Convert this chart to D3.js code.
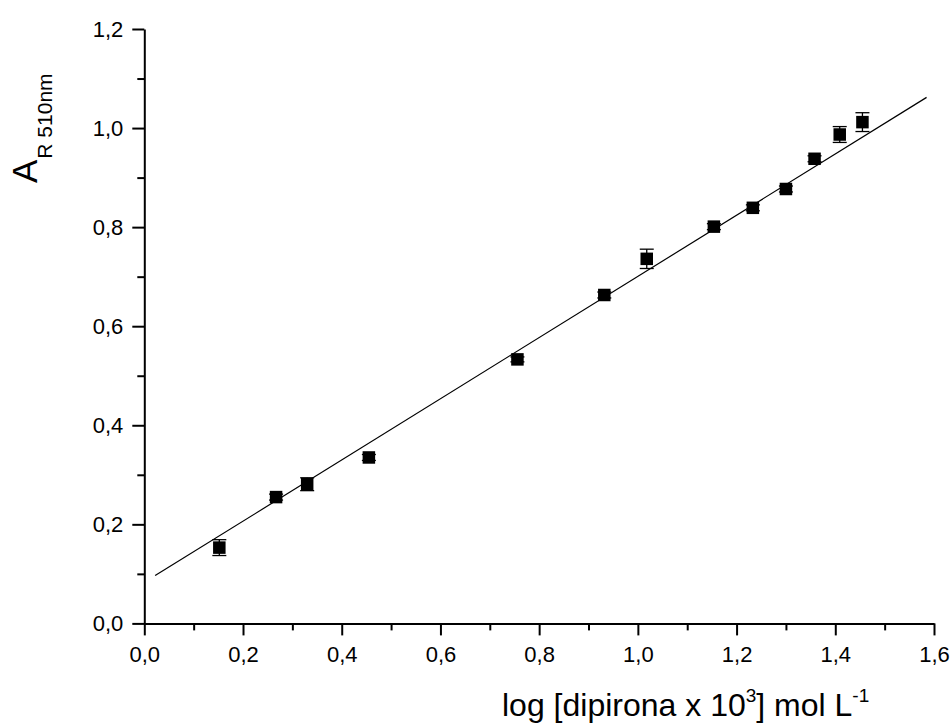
<!DOCTYPE html>
<html>
<head>
<meta charset="utf-8">
<script src="https://cdn.jsdelivr.net/npm/d3@7"></script>
<style>
  body { margin: 0; background: #fff; }
  svg { display: block; font-family: "Liberation Sans", Arial, sans-serif; }
  .axis path, .axis line { stroke: #000; stroke-width: 2; }
  .axis text { font-size: 22px; fill: #000; font-family: "Liberation Sans", Arial, sans-serif; }
</style>
</head>
<body>
<svg id="chart" width="952" height="724"></svg>
<script>
// tick values on each axis
const xMajor = [0, 0.2, 0.4, 0.6, 0.8, 1.0, 1.2, 1.4, 1.6];
const xMinor = [0.1, 0.3, 0.5, 0.7, 0.9, 1.1, 1.3, 1.5];
const yMajor = [0, 0.2, 0.4, 0.6, 0.8, 1.0, 1.2];
const yMinor = [0.1, 0.3, 0.5, 0.7, 0.9, 1.1];

const logConc = [0.152, 0.267, 0.330, 0.455, 0.756, 0.932, 1.018, 1.154, 1.233, 1.300, 1.358, 1.409, 1.455];
const absorb  = [0.153, 0.255, 0.281, 0.335, 0.533, 0.663, 0.736, 0.801, 0.839, 0.877, 0.938, 0.987, 1.012];
const errAbs  = [0.016, 0.006, 0.013, 0.006, 0.005, 0.006, 0.0195, 0.006, 0.006, 0.006, 0.006, 0.016, 0.019];

// linear fit
const fitSlope = 0.6177;
const fitIntercept = 0.0829;
const fitRange = [0.022, 1.585];

var fmt = function(v){ return d3.format(".1f")(v).replace(".", ","); };

var svg = d3.select("#chart");
var x = d3.scaleLinear().domain([0, 1.6]).range([144.3, 934]);
var y = d3.scaleLinear().domain([0, 1.2]).range([623.4, 29]);

// minor ticks first, majors on top
svg.append("g").attr("class", "axis")
    .attr("transform", "translate(0," + y(0) + ")")
    .call(d3.axisBottom(x).tickValues(xMinor).tickSize(7).tickSizeOuter(0).tickFormat(""))
    .select(".domain").remove();
svg.append("g").attr("class", "axis")
    .attr("transform", "translate(" + x(0) + ",0)")
    .call(d3.axisLeft(y).tickValues(yMinor).tickSize(7).tickSizeOuter(0).tickFormat(""))
    .select(".domain").remove();

svg.append("g").attr("class", "axis")
    .attr("transform", "translate(0," + y(0) + ")")
    .call(d3.axisBottom(x).tickValues(xMajor).tickSize(12).tickSizeOuter(0).tickPadding(11).tickFormat(fmt));
svg.append("g").attr("class", "axis")
    .attr("transform", "translate(" + x(0) + ",0)")
    .call(d3.axisLeft(y).tickValues(yMajor).tickSize(12).tickSizeOuter(0).tickPadding(9).tickFormat(fmt));

// fit line
svg.append("line")
    .attr("x1", x(fitRange[0])).attr("y1", y(fitIntercept + fitSlope * fitRange[0]))
    .attr("x2", x(fitRange[1])).attr("y2", y(fitIntercept + fitSlope * fitRange[1]))
    .attr("stroke", "#000").attr("stroke-width", 1.2);

var pts = logConc.map(function(v, i){ return {x: v, y: absorb[i], e: errAbs[i]}; });

// error bars
var eb = svg.append("g").attr("stroke", "#000").attr("stroke-width", 1.3);
pts.forEach(function(p){
    var cx = x(p.x), top = y(p.y + p.e), bot = y(p.y - p.e);
    eb.append("line").attr("x1", cx).attr("x2", cx).attr("y1", top).attr("y2", bot);
    eb.append("line").attr("x1", cx - 7).attr("x2", cx + 7).attr("y1", top).attr("y2", top);
    eb.append("line").attr("x1", cx - 7).attr("x2", cx + 7).attr("y1", bot).attr("y2", bot);
});

// square markers
var ms = 12.5;
svg.append("g").selectAll("rect").data(pts).join("rect")
    .attr("x", function(d){ return x(d.x) - ms / 2; })
    .attr("y", function(d){ return y(d.y) - ms / 2; })
    .attr("width", ms).attr("height", ms)
    .attr("fill", "#000");

// x title
var xt = svg.append("text")
    .attr("x", 502).attr("y", 716)
    .attr("font-size", 32).attr("fill", "#000");
xt.append("tspan").text("log [dipirona x 10");
xt.append("tspan").attr("font-size", 19).attr("dy", -14).text("3");
xt.append("tspan").attr("dy", 14).text("] mol L");
xt.append("tspan").attr("font-size", 19).attr("dy", -14).text("-1");

// y title
var yt = svg.append("text")
    .attr("transform", "translate(37,183) rotate(-90)")
    .attr("font-size", 35).attr("fill", "#000");
yt.append("tspan").text("A");
yt.append("tspan").attr("font-size", 21).attr("dy", 15).attr("dx", 1).text("R 510nm");
</script>
</body>
</html>
